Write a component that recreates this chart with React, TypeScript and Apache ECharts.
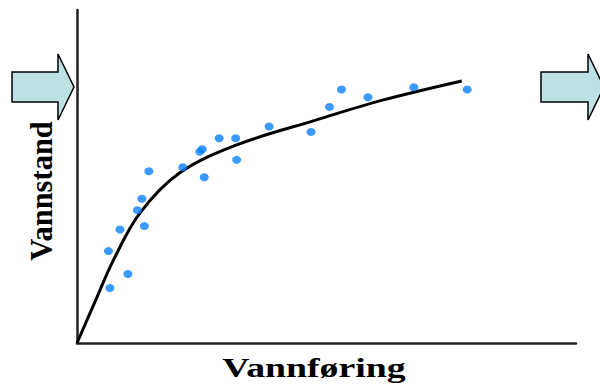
import React, { useEffect, useRef } from "react";
import * as echarts from "echarts";

// Observations (discharge, water level) in relative units 0..100
const obsQ = [6.6, 10.2, 6.3, 8.6, 13.5, 12.1, 13.0, 14.4, 21.2, 25.5, 24.6, 25.1, 28.5, 31.8, 32.0, 38.5, 46.9, 50.6, 53.0, 58.3, 67.5, 78.2];
const obsH = [16.5, 20.7, 27.6, 34.1, 35.1, 39.9, 43.3, 51.6, 52.8, 49.8, 57.4, 58.2, 61.5, 61.5, 55.0, 65.0, 63.4, 70.9, 76.1, 73.8, 76.8, 76.1];

// Rating curve
const curveQ = [0, 3.9, 7.3, 12.6, 20.6, 32.0, 48.0, 61.4, 77.1];
const curveH = [0, 13.4, 24.9, 39.0, 51.1, 59.5, 67.0, 73.0, 78.7];

const xTitle = "Vannføring";
const yTitle = "Vannstand";

const serif = "'Liberation Serif', 'Times New Roman', Times, 'DejaVu Serif', serif";

export default function App() {
  const ref = useRef<HTMLDivElement>(null);
  useEffect(() => {
    if (!ref.current) return;
    const chart = echarts.init(ref.current, undefined, { renderer: "svg" });
    const arrowFill = "#BCE2E5";
    chart.setOption({
      animation: false,
      backgroundColor: "#ffffff",
      grid: { left: 77, top: 10, right: 24, bottom: 41 },
      xAxis: {
        type: "value",
        min: 0,
        max: 100,
        axisLine: { show: true, lineStyle: { color: "#222", width: 2.5 } },
        axisTick: { show: false },
        axisLabel: { show: false },
        splitLine: { show: false },
      },
      yAxis: {
        type: "value",
        min: 0,
        max: 100,
        axisLine: { show: true, lineStyle: { color: "#222", width: 2.5 } },
        axisTick: { show: false },
        axisLabel: { show: false },
        splitLine: { show: false },
      },
      series: [
        {
          type: "line",
          data: curveQ.map((q, i) => [q, curveH[i]]),
          smooth: 0.35,
          showSymbol: false,
          lineStyle: { color: "#000", width: 3 },
          z: 2,
        },
        {
          type: "scatter",
          data: obsQ.map((q, i) => [q, obsH[i]]),
          symbol: "circle",
          symbolSize: [9, 8],
          itemStyle: { color: "#0A80FF" },
          z: 3,
        },
      ],
      graphic: [
        {
          type: "polygon",
          shape: {
            points: [
              [12, 72], [58, 72], [58, 54], [74, 87], [58, 120], [58, 102], [12, 102],
            ],
          },
          style: { fill: arrowFill, stroke: "#000", lineWidth: 1.5 },
        },
        {
          type: "polygon",
          shape: {
            points: [
              [541, 72], [588, 72], [588, 54], [604, 87], [588, 120], [588, 102], [541, 102],
            ],
          },
          style: { fill: arrowFill, stroke: "#000", lineWidth: 1.5 },
        },
        {
          type: "text",
          x: 42,
          y: 191,
          rotation: Math.PI / 2,
          style: {
            text: yTitle,
            fontFamily: serif,
            fontWeight: "bold",
            fontSize: 30.5,
            fill: "#000",
            align: "center",
            verticalAlign: "middle",
          },
        },
        {
          type: "text",
          x: 314,
          y: 368,
          scaleX: 1.4,
          style: {
            text: xTitle,
            fontFamily: serif,
            fontWeight: "bold",
            fontSize: 27,
            fill: "#000",
            align: "center",
            verticalAlign: "middle",
          },
        },
      ],
    });
    return () => chart.dispose();
  }, []);
  return <div ref={ref} style={{ width: 600, height: 384, position: "fixed", left: 0, top: 0 }} />;
}
